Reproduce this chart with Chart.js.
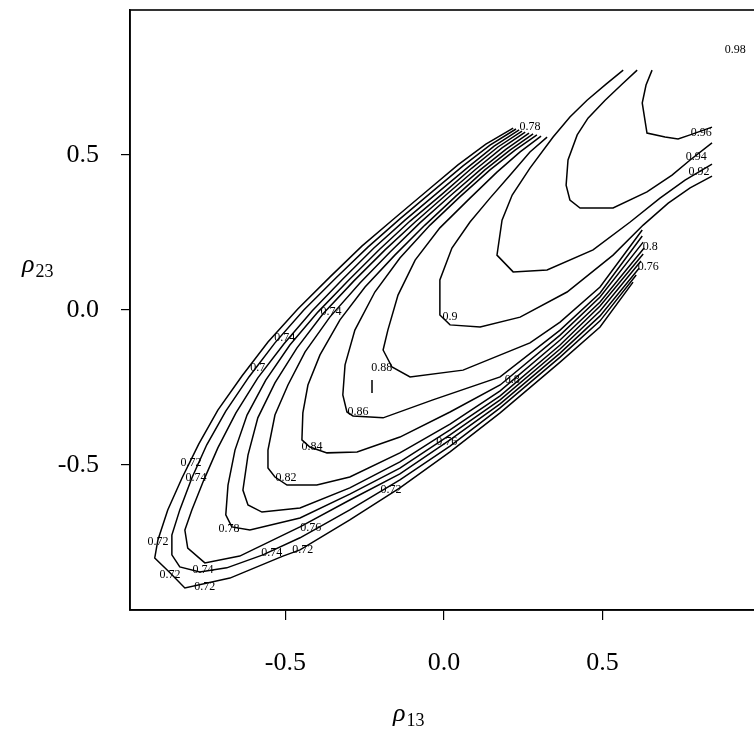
<!DOCTYPE html>
<html><head><meta charset="utf-8">
<script src="https://cdn.jsdelivr.net/npm/chart.js@4/dist/chart.umd.min.js"></script>
<style>
html,body{margin:0;padding:0;background:#fff;overflow:hidden;}
#wrap{width:760px;height:734px;}
</style></head><body>
<div id="wrap"><canvas id="c" width="760" height="734"></canvas></div>
<script>
// ---- axis ticks ----
const xTicks = [-0.5, 0.0, 0.5];
const yTicks = [-0.5, 0.0, 0.5];

// ---- contour lines (rho13, rho23) ----
const c072 = [[0.218,0.587],[0.132,0.535],[0.044,0.468],[-0.054,0.384],[-0.155,0.297],[-0.259,0.206],[-0.360,0.106],[-0.461,0.003],[-0.555,-0.103],[-0.637,-0.213],[-0.713,-0.323],[-0.773,-0.432],[-0.826,-0.542],[-0.871,-0.645],[-0.902,-0.742],[-0.912,-0.800],[-0.864,-0.848],[-0.817,-0.897],[-0.675,-0.865],[-0.508,-0.794],[-0.454,-0.774],[-0.297,-0.677],[-0.139,-0.574],[0.019,-0.458],[0.177,-0.332],[0.366,-0.168],[0.492,-0.055],[0.596,0.090]];
const c074 = [[0.227,0.584],[0.145,0.532],[0.060,0.465],[-0.038,0.381],[-0.139,0.294],[-0.240,0.203],[-0.341,0.103],[-0.442,0],[-0.533,-0.106],[-0.615,-0.216],[-0.688,-0.326],[-0.748,-0.435],[-0.795,-0.542],[-0.833,-0.645],[-0.858,-0.726],[-0.858,-0.790],[-0.833,-0.829],[-0.770,-0.845],[-0.685,-0.832],[-0.571,-0.790],[-0.454,-0.735],[-0.297,-0.645],[-0.139,-0.548],[0.019,-0.439],[0.177,-0.316],[0.366,-0.152],[0.492,-0.035],[0.606,0.113]];
const c076 = [[0.237,0.581],[0.158,0.529],[0.076,0.461],[-0.022,0.377],[-0.123,0.290],[-0.221,0.200],[-0.319,0.100],[-0.416,-0.003],[-0.505,-0.110],[-0.587,-0.219],[-0.656,-0.332],[-0.713,-0.445],[-0.757,-0.548],[-0.795,-0.645],[-0.817,-0.710],[-0.808,-0.768],[-0.754,-0.816],[-0.644,-0.794],[-0.454,-0.700],[-0.297,-0.613],[-0.139,-0.529],[0.019,-0.419],[0.177,-0.303],[0.366,-0.139],[0.492,-0.019],[0.615,0.135]];
const c078 = [[0.246,0.577],[0.170,0.526],[0.088,0.458],[-0.006,0.374],[-0.107,0.287],[-0.202,0.197],[-0.300,0.097],[-0.397,-0.006],[-0.486,-0.113],[-0.562,-0.226],[-0.621,-0.339],[-0.659,-0.452],[-0.681,-0.565],[-0.688,-0.661],[-0.669,-0.700],[-0.612,-0.710],[-0.454,-0.671],[-0.297,-0.594],[-0.139,-0.510],[0.019,-0.403],[0.177,-0.290],[0.366,-0.126],[0.492,-0.003],[0.621,0.158]];
const c080 = [[0.256,0.574],[0.183,0.523],[0.101,0.455],[0.006,0.371],[-0.091,0.284],[-0.186,0.194],[-0.284,0.094],[-0.382,-0.013],[-0.464,-0.123],[-0.533,-0.235],[-0.587,-0.348],[-0.618,-0.468],[-0.634,-0.581],[-0.618,-0.629],[-0.574,-0.652],[-0.454,-0.639],[-0.297,-0.574],[-0.139,-0.490],[0.019,-0.387],[0.177,-0.277],[0.366,-0.113],[0.492,0.013],[0.628,0.181]];
const c082 = [[0.268,0.571],[0.196,0.519],[0.114,0.452],[0.019,0.368],[-0.076,0.281],[-0.170,0.187],[-0.265,0.087],[-0.360,-0.023],[-0.438,-0.135],[-0.492,-0.242],[-0.533,-0.339],[-0.555,-0.452],[-0.555,-0.510],[-0.533,-0.539],[-0.495,-0.565],[-0.401,-0.565],[-0.297,-0.539],[-0.139,-0.461],[0.019,-0.368],[0.177,-0.261],[0.366,-0.097],[0.492,0.026],[0.631,0.200]];
const c084 = [[0.281,0.568],[0.208,0.516],[0.129,0.452],[0.035,0.365],[-0.060,0.274],[-0.155,0.177],[-0.249,0.074],[-0.328,-0.032],[-0.391,-0.145],[-0.429,-0.242],[-0.445,-0.332],[-0.448,-0.419],[-0.423,-0.442],[-0.369,-0.461],[-0.274,-0.458],[-0.139,-0.410],[0.019,-0.329],[0.177,-0.242],[0.366,-0.081],[0.492,0.042],[0.628,0.219]];
const c086 = [[0.293,0.565],[0.224,0.516],[0.145,0.452],[0.050,0.365],[-0.044,0.274],[-0.139,0.168],[-0.218,0.058],[-0.281,-0.065],[-0.312,-0.177],[-0.319,-0.274],[-0.306,-0.329],[-0.287,-0.342],[-0.192,-0.348],[-0.035,-0.290],[0.177,-0.216],[0.366,-0.065],[0.492,0.055],[0.625,0.239]];
const c088 = [[0.306,0.561],[0.240,0.510],[0.167,0.445],[0.082,0.361],[-0.013,0.265],[-0.091,0.161],[-0.145,0.048],[-0.177,-0.065],[-0.192,-0.129],[-0.164,-0.184],[-0.107,-0.216],[0.060,-0.194],[0.271,-0.106],[0.366,-0.039],[0.492,0.074],[0.625,0.258]];
const c088b = [[-0.227,-0.226],[-0.227,-0.268]];
const c090 = [[0.325,0.558],[0.271,0.510],[0.208,0.435],[0.145,0.361],[0.082,0.284],[0.025,0.200],[-0.013,0.097],[-0.013,-0.016],[0.019,-0.048],[0.114,-0.055],[0.240,-0.023],[0.388,0.058],[0.533,0.177],[0.628,0.274],[0.707,0.345],[0.776,0.394],[0.845,0.432]];
const c092 = [[0.565,0.774],[0.511,0.729],[0.451,0.677],[0.397,0.623],[0.344,0.558],[0.271,0.458],[0.215,0.371],[0.183,0.290],[0.167,0.177],[0.218,0.123],[0.325,0.129],[0.470,0.194],[0.587,0.284],[0.681,0.361],[0.760,0.419],[0.845,0.471]];
const c094 = [[0.609,0.774],[0.562,0.729],[0.508,0.677],[0.454,0.619],[0.420,0.565],[0.391,0.484],[0.385,0.403],[0.397,0.355],[0.429,0.329],[0.533,0.329],[0.640,0.381],[0.719,0.435],[0.776,0.484],[0.845,0.539]];
const c096 = [[0.656,0.774],[0.637,0.726],[0.625,0.668],[0.640,0.571],[0.697,0.558],[0.738,0.552],[0.776,0.565],[0.845,0.590]];

// ---- contour labels: text and position ----
const labelText = ["0.98","0.96","0.94","0.92","0.8","0.76","0.78","0.74","0.74","0.7","0.88","0.9","0.86","0.8","0.84","0.76","0.72","0.74","0.82","0.72","0.78","0.76","0.72","0.74","0.72","0.72","0.74","0.72"];
const labelX = [0.918,0.811,0.795,0.804,0.650,0.644,0.271,-0.502,-0.356,-0.587,-0.196,0.019,-0.271,0.215,-0.416,0.009,-0.798,-0.782,-0.498,-0.167,-0.678,-0.420,-0.902,-0.543,-0.445,-0.864,-0.760,-0.754];
const labelY = [0.839,0.571,0.494,0.445,0.203,0.139,0.590,-0.090,-0.006,-0.187,-0.187,-0.023,-0.329,-0.226,-0.442,-0.426,-0.494,-0.542,-0.542,-0.581,-0.706,-0.703,-0.748,-0.784,-0.774,-0.855,-0.839,-0.894];

const contours = [c072,c074,c076,c078,c080,c082,c084,c086,c088,c088b,c090,c092,c094,c096];

const SERIF = '"Liberation Serif","Times New Roman",serif';

const datasets = contours.map(c => ({
  data: c.map(p => ({x:p[0], y:p[1]})),
  showLine: true, pointRadius: 0, borderColor: '#000', borderWidth: 1.5,
  fill: false, tension: 0
}));

const framePlugin = {
  id: 'frame',
  afterDraw(chart){
    const {ctx, chartArea:a, scales} = chart;
    ctx.save();
    ctx.strokeStyle = '#000'; ctx.lineWidth = 1.6;
    ctx.strokeRect(a.left, a.top, a.right - a.left, a.bottom - a.top);
    ctx.fillStyle = '#000';
    ctx.font = '12px ' + SERIF;
    ctx.textAlign = 'center'; ctx.textBaseline = 'middle';
    for (let i = 0; i < labelText.length; i++) {
      ctx.fillText(labelText[i], scales.x.getPixelForValue(labelX[i]), scales.y.getPixelForValue(labelY[i]));
    }
    const rho = (sub, x, y) => {
      ctx.textAlign = 'left'; ctx.textBaseline = 'alphabetic';
      ctx.font = 'italic 26px ' + SERIF;
      ctx.fillText('\u03C1', x, y);
      const w = ctx.measureText('\u03C1').width;
      ctx.font = '18px ' + SERIF;
      ctx.fillText(sub, x + w + 1, y + 5);
    };
    rho('23', 22, 272);
    rho('13', 393, 721);
    ctx.restore();
  }
};

const tickFont = {family: SERIF, size: 26};

new Chart(document.getElementById('c'), {
  type: 'scatter',
  data: { datasets },
  options: {
    responsive: false, animation: false,
    layout: { padding: {left: 0, top: 10, right: 2, bottom: 0} },
    plugins: { legend: {display: false}, tooltip: {enabled: false} },
    scales: {
      x: {
        type: 'linear', min: -0.99, max: 0.99,
        afterBuildTicks: s => { s.ticks = xTicks.map(v => ({value: v})); },
        afterFit: s => { s.height = 124; s.paddingLeft = 0; s.paddingRight = 0; },
        ticks: { callback: v => v.toFixed(1), font: tickFont, color: '#000', padding: 28, maxRotation: 0 },
        grid: { drawOnChartArea: false, drawTicks: true, tickLength: 10, color: '#000', lineWidth: 1.2 },
        border: { display: true, color: '#000', width: 1.5 }
      },
      y: {
        type: 'linear', min: -0.968, max: 0.968,
        afterBuildTicks: s => { s.ticks = yTicks.map(v => ({value: v})); },
        afterFit: s => { s.width = 130; s.paddingTop = 0; s.paddingBottom = 0; },
        ticks: { callback: v => v.toFixed(1), font: tickFont, color: '#000', padding: 22 },
        grid: { drawOnChartArea: false, drawTicks: true, tickLength: 9, color: '#000', lineWidth: 1.2 },
        border: { display: true, color: '#000', width: 1.5 }
      }
    }
  },
  plugins: [framePlugin]
});
</script>
</body></html>
